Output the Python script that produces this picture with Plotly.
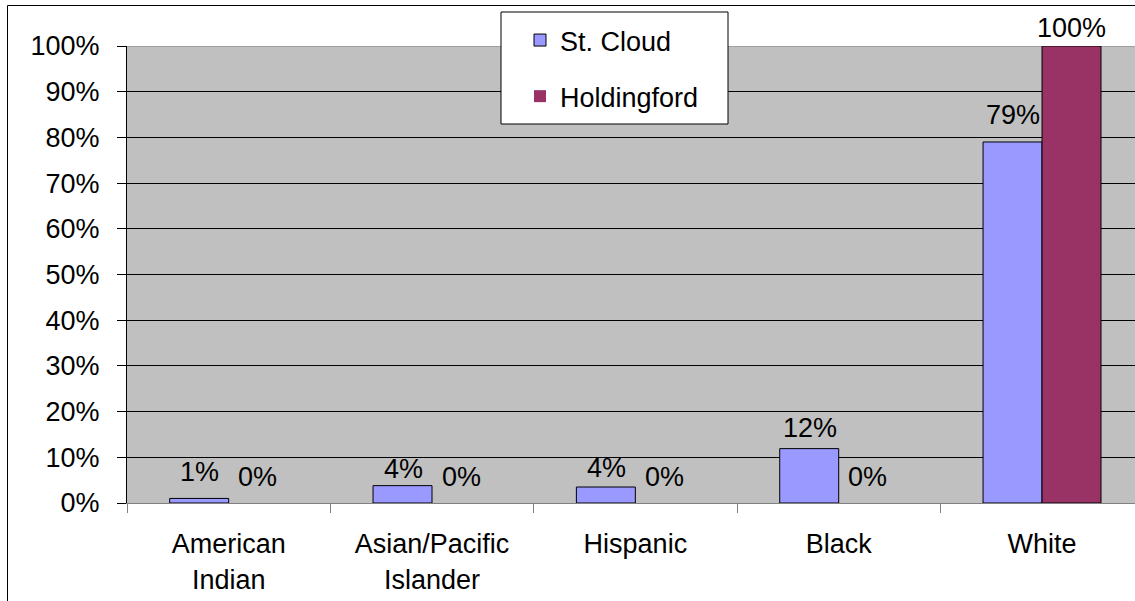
import plotly.graph_objects as go

categories = ["American<br>Indian", "Asian/Pacific<br>Islander", "Hispanic", "Black", "White"]
st_cloud = [1.0, 3.8, 3.5, 11.9, 79.0]
holdingford = [0.0, 0.0, 0.0, 0.0, 100.0]
series_names = ["St. Cloud", "Holdingford"]

FONT = "Liberation Sans, Arial, sans-serif"
FS = 27

fig = go.Figure()
fig.add_trace(go.Bar(x=categories, y=st_cloud, name=series_names[0],
                     marker=dict(color="#9999FF",
                                 line=dict(color="black", width=[1 if v > 0 else 0 for v in st_cloud])),
                     legendgroup="a"))
fig.add_trace(go.Bar(x=categories, y=holdingford, name=series_names[1],
                     marker=dict(color="#993366",
                                 line=dict(color="black", width=[1 if v > 0 else 0 for v in holdingford])),
                     legendgroup="b"))

# data labels
yshift_sc = [26, 17, 19, 21, 27]
yshift_ho = [26, 26, 26, 26, 18]
for i, c in enumerate(categories):
    fig.add_annotation(x=c, y=st_cloud[i], text=f"{st_cloud[i]:.0f}%", showarrow=False,
                       xshift=-29, yshift=yshift_sc[i], yanchor="middle",
                       font=dict(family=FONT, size=FS, color="black"))
    fig.add_annotation(x=c, y=holdingford[i], text=f"{holdingford[i]:.0f}%", showarrow=False,
                       xshift=29, yshift=yshift_ho[i], yanchor="middle",
                       font=dict(family=FONT, size=FS, color="black"))

L, T, R, B = 127, 46, 0, 98
W, H = 1135, 601
pw = W - L - R
ph = H - T - B

def px_x(x):
    return (x - L) / pw

def px_y(y):
    return (H - B - y) / ph

# outer chart border (cropped)
fig.add_shape(type="rect", xref="paper", yref="paper",
              x0=px_x(7.5), x1=px_x(1200), y0=px_y(700), y1=px_y(5.5),
              line=dict(color="black", width=1), fillcolor="rgba(0,0,0,0)", layer="below")
# top border of plot area (grey)
fig.add_shape(type="line", xref="paper", yref="y", x0=0, x1=1, y0=100, y1=100,
              line=dict(color="#808080", width=1), layer="between")
# legend box
fig.add_shape(type="rect", xref="paper", yref="paper",
              x0=px_x(501), x1=px_x(728), y0=px_y(124), y1=px_y(12),
              line=dict(color="black", width=1), fillcolor="white", layer="above")

fig.update_layout(
    width=W, height=H,
    margin=dict(l=L, r=R, t=T, b=B, pad=0),
    paper_bgcolor="white",
    plot_bgcolor="#C0C0C0",
    barmode="group",
    bargap=0.42,
    bargroupgap=0,
    font=dict(family=FONT, size=FS, color="black"),
    legend=dict(x=px_x(520), y=px_y(16), xanchor="left", yanchor="top",
                bgcolor="rgba(0,0,0,0)", borderwidth=0,
                traceorder="grouped", tracegroupgap=18,
                font=dict(family=FONT, size=FS, color="black")),
    showlegend=True,
)
fig.update_xaxes(
    range=[-0.5, 4.5 - 8.7 / 203.3],
    tickson="boundaries", ticks="outside", ticklen=9, tickcolor="#808080",
    showline=True, linecolor="#808080", linewidth=1,
    showgrid=False, tickfont=dict(family=FONT, size=FS, color="black"),
    ticklabelstandoff=17,
)
fig.update_yaxes(
    range=[0, 100], dtick=10, ticksuffix="%",
    ticks="outside", ticklen=9, tickcolor="black",
    showline=True, linecolor="black", linewidth=1,
    showgrid=True, gridcolor="black", gridwidth=1, zeroline=False,
    tickfont=dict(family=FONT, size=FS, color="black"),
    ticklabelstandoff=12,
)

fig.write_html("out.html", config={"displayModeBar": False},
               post_script="document.body.style.margin='0';")
